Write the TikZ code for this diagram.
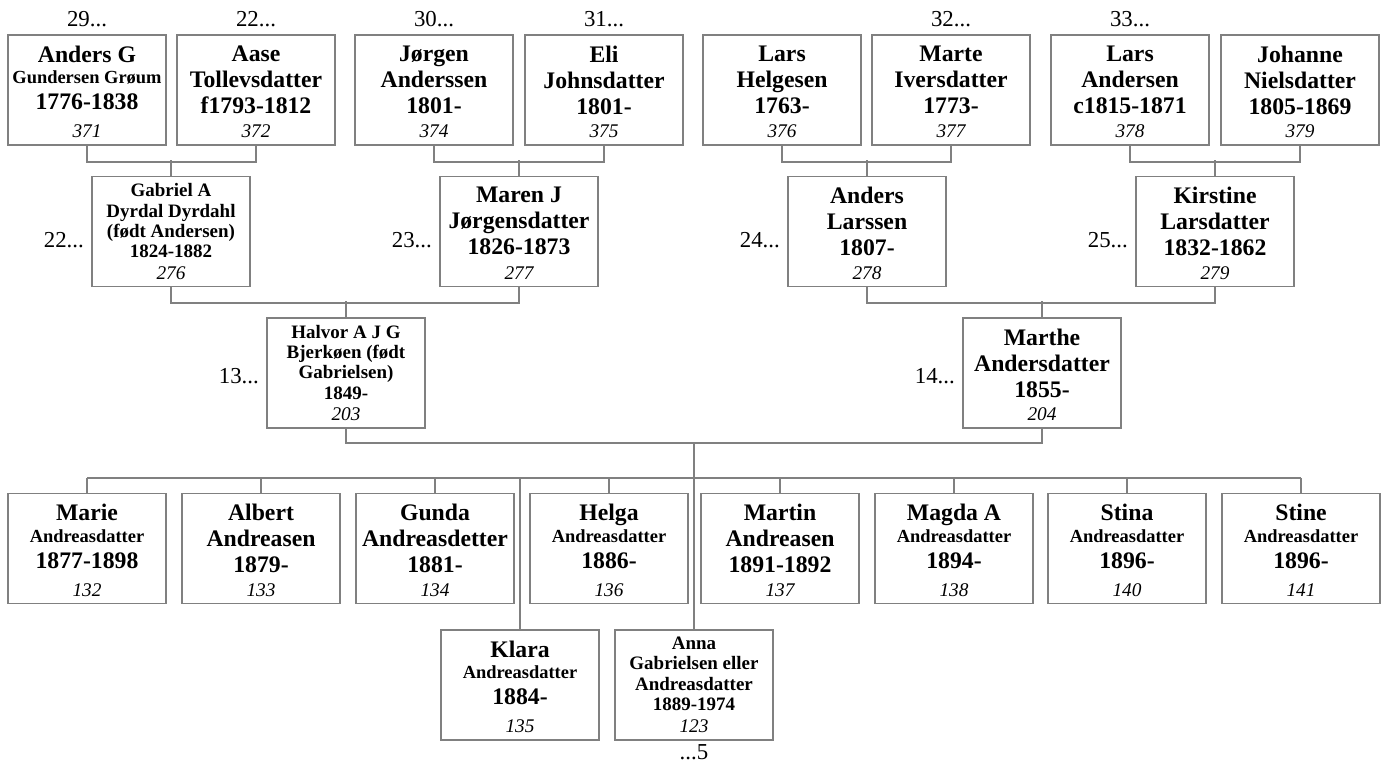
\documentclass[tikz,border=0pt]{standalone}
\usepackage{fontspec}
\setmainfont{Liberation Serif}
\usepackage{tikz}
\usetikzlibrary{positioning}
\definecolor{linegray}{RGB}{128,128,128}

\newlength{\cardw}\setlength{\cardw}{3.16cm}
\newlength{\cardh}\setlength{\cardh}{2.2cm}\addtolength{\cardh}{-8pt}
\newcommand{\nbig}[1]{{\fontsize{13.5}{14.8}\selectfont\bfseries #1\par}}
\newcommand{\nsmall}[1]{{\fontsize{10.5}{12.5}\selectfont\bfseries #1\par}}
\newcommand{\nmid}[1]{{\fontsize{10.8}{11.6}\selectfont\bfseries #1\par}}
\newcommand{\card}[3][2pt]{\parbox[c][\cardh][t]{\cardw}{\centering\vspace*{#1}#2\vfill
  {\fontsize{11}{11.6}\selectfont\itshape #3\par}}}

\begin{document}
\begin{tikzpicture}[x=0.02cm, y=-0.02cm,
		person/.style={
			draw=linegray,
			line width=0.9pt,
			inner xsep=0pt,
			inner ysep=4pt
		},
		link/.style={
			draw=linegray,
			line width=0.9pt
		},
		tag/.style={
			inner sep=0pt,
			font=\fontsize{13}{14}\selectfont
		},
		node distance=4pt
		]
		
		\useasboundingbox (0,0) rectangle (1381,763);
		
		% generation 4
		\node[person] at (87, 90)
		(p371) {\card{\nbig{Anders G}\nsmall{Gundersen Grøum}\nbig{1776-1838}}{371}};
		\node[person] at (256, 90)
		(p372) {\card{\nbig{Aase}\nbig{Tollevsdatter}\nbig{f1793-1812}}{372}};
		\node[person] at (434, 90)
		(p374) {\card{\nbig{Jørgen}\nbig{Anderssen}\nbig{1801-}}{374}};
		\node[person] at (604, 90)
		(p375) {\card{\nbig{Eli}\nbig{Johnsdatter}\nbig{1801-}}{375}};
		\node[person] at (782, 90)
		(p376) {\card{\nbig{Lars}\nbig{Helgesen}\nbig{1763-}}{376}};
		\node[person] at (951, 90)
		(p377) {\card{\nbig{Marte}\nbig{Iversdatter}\nbig{1773-}}{377}};
		\node[person] at (1130, 90)
		(p378) {\card{\nbig{Lars}\nbig{Andersen}\nbig{c1815-1871}}{378}};
		\node[person] at (1300, 90)
		(p379) {\card{\nbig{Johanne}\nbig{Nielsdatter}\nbig{1805-1869}}{379}};
		
		\node[tag, above=of p371] (t371) {29...};
		\node[tag, above=of p372] (t372) {22...};
		\node[tag, above=of p374] (t374) {30...};
		\node[tag, above=of p375] (t375) {31...};
		\node[tag, above=of p377] (t377) {32...};
		\node[tag, above=of p378] (t378) {33...};
		
		% generation 3
		\node[person] at (171, 231.5)
		(p276) {\card[0pt]{\nmid{Gabriel A}\nmid{Dyrdal Dyrdahl}\nmid{(født Andersen)}\nmid{1824-1882}}{276}};
		\node[person] at (519, 231.5)
		(p277) {\card{\nbig{Maren J}\nbig{Jørgensdatter}\nbig{1826-1873}}{277}};
		\node[person] at (867, 231.5)
		(p278) {\card{\nbig{Anders}\nbig{Larssen}\nbig{1807-}}{278}};
		\node[person] at (1215, 231.5)
		(p279) {\card{\nbig{Kirstine}\nbig{Larsdatter}\nbig{1832-1862}}{279}};
		
		\node[tag, left=of p276, yshift=-5pt] (t276) {22...};
		\node[tag, left=of p277, yshift=-5pt] (t277) {23...};
		\node[tag, left=of p278, yshift=-5pt] (t278) {24...};
		\node[tag, left=of p279, yshift=-5pt] (t279) {25...};
		
		% generation 2
		\node[person] at (346, 373)
		(p203) {\card[0pt]{\nmid{Halvor A J G}\nmid{Bjerkøen (født}\nmid{Gabrielsen)}\nmid{1849-}}{203}};
		\node[person] at (1042, 373)
		(p204) {\card{\nbig{Marthe}\nbig{Andersdatter}\nbig{1855-}}{204}};
		
		\node[tag, left=of p203, yshift=-2pt] (t203) {13...};
		\node[tag, left=of p204, yshift=-2pt] (t204) {14...};
		
		% children
		\node[person] at (87, 548.5)
		(p132) {\card{\nbig{Marie}\nsmall{Andreasdatter}\nbig{1877-1898}}{132}};
		\node[person] at (261, 548.5)
		(p133) {\card{\nbig{Albert}\nbig{Andreasen}\nbig{1879-}}{133}};
		\node[person] at (435, 548.5)
		(p134) {\card{\nbig{Gunda}\nbig{Andreasdetter}\nbig{1881-}}{134}};
		\node[person] at (609, 548.5)
		(p136) {\card{\nbig{Helga}\nsmall{Andreasdatter}\nbig{1886-}}{136}};
		\node[person] at (780, 548.5)
		(p137) {\card{\nbig{Martin}\nbig{Andreasen}\nbig{1891-1892}}{137}};
		\node[person] at (954, 548.5)
		(p138) {\card{\nbig{Magda A}\nsmall{Andreasdatter}\nbig{1894-}}{138}};
		\node[person] at (1127, 548.5)
		(p140) {\card{\nbig{Stina}\nsmall{Andreasdatter}\nbig{1896-}}{140}};
		\node[person] at (1301, 548.5)
		(p141) {\card{\nbig{Stine}\nsmall{Andreasdatter}\nbig{1896-}}{141}};
		\node[person] at (520, 685)
		(p135) {\card{\nbig{Klara}\nsmall{Andreasdatter}\nbig{1884-}}{135}};
		\node[person] at (694, 685)
		(p123) {\card[0pt]{\nmid{Anna}\nmid{Gabrielsen eller}\nmid{Andreasdatter}\nmid{1889-1974}}{123}};
		
		\node[tag, below=2pt of p123] (t123) {...5};
		
		\coordinate (fam) at (694, 443);
		\coordinate (kids) at (694, 478);
		
		\draw[link] (p371.south) -- ++(0,16) -| (p372.south);
		\draw[link] (p276.north) -- ++(0,-16);
		\draw[link] (p374.south) -- ++(0,16) -| (p375.south);
		\draw[link] (p277.north) -- ++(0,-16);
		\draw[link] (p376.south) -- ++(0,16) -| (p377.south);
		\draw[link] (p278.north) -- ++(0,-16);
		\draw[link] (p378.south) -- ++(0,16) -| (p379.south);
		\draw[link] (p279.north) -- ++(0,-16);
		\draw[link] (p276.south) -- ++(0,16) -| (p277.south);
		\draw[link] (p203.north) -- ++(0,-16);
		\draw[link] (p278.south) -- ++(0,16) -| (p279.south);
		\draw[link] (p204.north) -- ++(0,-16);
		\draw[link] (p203.south) |- (fam) -| (p204.south);
		\draw[link] (fam) -- (p123.north);
		\draw[link] (p132.north |- kids) -- (p141.north |- kids);
		\draw[link] (p132.north) -- (p132.north |- kids);
		\draw[link] (p133.north) -- (p133.north |- kids);
		\draw[link] (p134.north) -- (p134.north |- kids);
		\draw[link] (p136.north) -- (p136.north |- kids);
		\draw[link] (p137.north) -- (p137.north |- kids);
		\draw[link] (p138.north) -- (p138.north |- kids);
		\draw[link] (p140.north) -- (p140.north |- kids);
		\draw[link] (p141.north) -- (p141.north |- kids);
		\draw[link] (p135.north) -- (p135.north |- kids);
		
\end{tikzpicture}
\end{document}
